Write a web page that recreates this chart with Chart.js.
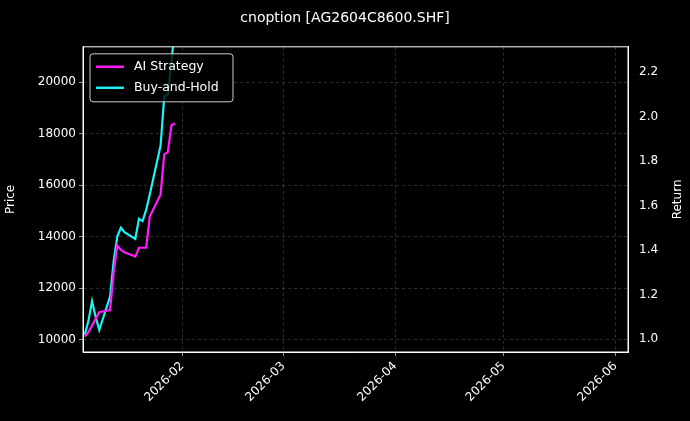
<!DOCTYPE html>
<html><head><meta charset="utf-8">
<script src="https://cdn.jsdelivr.net/npm/chart.js@4"></script>
<style>html,body{margin:0;background:#000}#wrap{width:690px;height:421px}</style>
</head><body><div id="wrap"><canvas id="c"></canvas></div>
<script>
// dias desde 2026-01-01 (0 = 1 jan)
const dias = [4,5,6,7,8,11,12,13,14,15,18,19,20,21,22,25,26,27,28,29];
const retornoAI = [1.01,1.03,1.06,1.09,1.12,1.13,1.30,1.42,1.40,1.39,1.37,1.41,1.41,1.41,1.55,1.65,1.83,1.84,1.96,1.97];
const retornoBH = [1.02,1.08,1.17,1.10,1.04,1.19,1.35,1.46,1.50,1.48,1.45,1.54,1.53,1.58,1.65,1.87,2.09,2.10,2.25,2.40];
const tickDias = [31,59,90,120,151];
const tickLabels = ['2026-02','2026-03','2026-04','2026-05','2026-06'];
const precoTicks = [10000,12000,14000,16000,18000,20000];
const retornoTicks = [1.0,1.2,1.4,1.6,1.8,2.0,2.2];

const grade = {color:'rgba(255,255,255,0.3)', lineWidth:0.6, tickColor:'#fff', tickLength:4};
const borda = {color:'#fff', dash:[3,3]};
const fonte = {family:'DejaVu Sans', size:12};
Chart.defaults.color = '#fff';

const extras = {
  id:'extras',
  afterDraw(chart){
    const c = chart.ctx, a = chart.chartArea;
    c.save();
    // borda do grafico solida
    c.strokeStyle = '#fff'; c.lineWidth = 1;
    c.strokeRect(a.left, a.top, a.right-a.left, a.bottom-a.top);
    // titulo do eixo direito (lido de baixo pra cima)
    c.font = '12px DejaVu Sans'; c.fillStyle = '#fff';
    c.translate(678, (a.top+a.bottom)/2); c.rotate(-Math.PI/2);
    c.textAlign = 'center'; c.textBaseline = 'middle';
    c.fillText('Return', 0, 0);
    c.restore();
    // legenda
    const x = a.left+7, y = a.top+7;
    c.save();
    c.fillStyle = 'rgba(0,0,0,0.8)';
    c.strokeStyle = '#ccc'; c.lineWidth = 1;
    c.beginPath(); c.roundRect(x, y, 143, 48, 3); c.fill(); c.stroke();
    c.font = '12.5px DejaVu Sans'; c.textBaseline = 'middle';
    chart.data.datasets.forEach((d,i)=>{
      const yy = y+13+i*21;
      c.strokeStyle = d.borderColor; c.lineWidth = 2.5;
      c.beginPath(); c.moveTo(x+6,yy); c.lineTo(x+34,yy); c.stroke();
      c.fillStyle = '#fff'; c.fillText(d.label, x+44, yy);
    });
    c.restore();
  }
};

new Chart(document.getElementById('c'), {
  type:'line',
  data:{
    datasets:[
      {label:'AI Strategy', data:dias.map((d,i)=>({x:d,y:retornoAI[i]})), borderColor:'#ff1aff', borderWidth:2.2, pointRadius:0, yAxisID:'y1', tension:0},
      {label:'Buy-and-Hold', data:dias.map((d,i)=>({x:d,y:retornoBH[i]})), borderColor:'#1ff2f2', borderWidth:2.2, pointRadius:0, yAxisID:'y1', tension:0}
    ]
  },
  options:{
    responsive:true, maintainAspectRatio:false, animation:false,
    plugins:{
      legend:{display:false},
      title:{display:true, text:'cnoption [AG2604C8600.SHF]', color:'#fff', font:{family:'DejaVu Sans', size:14, weight:'normal'}, padding:{top:10,bottom:20}}
    },
    scales:{
      x:{type:'linear', min:3.5, max:154.5, grid:grade, border:borda,
        afterBuildTicks(ax){ ax.ticks = tickDias.map(v=>({value:v})); },
        afterFit(ax){ ax.height = 69; },
        ticks:{font:fonte, maxRotation:45, minRotation:45, callback:(v)=>tickLabels[tickDias.indexOf(v)]}},
      y:{position:'left', min:9530, max:21373, grid:grade, border:borda,
        afterBuildTicks(ax){ ax.ticks = precoTicks.map(v=>({value:v})); },
        afterFit(ax){ ax.width = 83; },
        title:{display:true, text:'Price', font:fonte},
        ticks:{font:fonte, callback:(v)=>String(v)}},
      y1:{position:'right', min:0.941, max:2.314, grid:{display:false}, border:{color:'#fff'},
        afterBuildTicks(ax){ ax.ticks = retornoTicks.map(v=>({value:v})); },
        afterFit(ax){ ax.width = 62; },
        ticks:{font:fonte, callback:(v)=>v.toFixed(1)}}
    }
  },
  plugins:[extras]
});
</script></body></html>
